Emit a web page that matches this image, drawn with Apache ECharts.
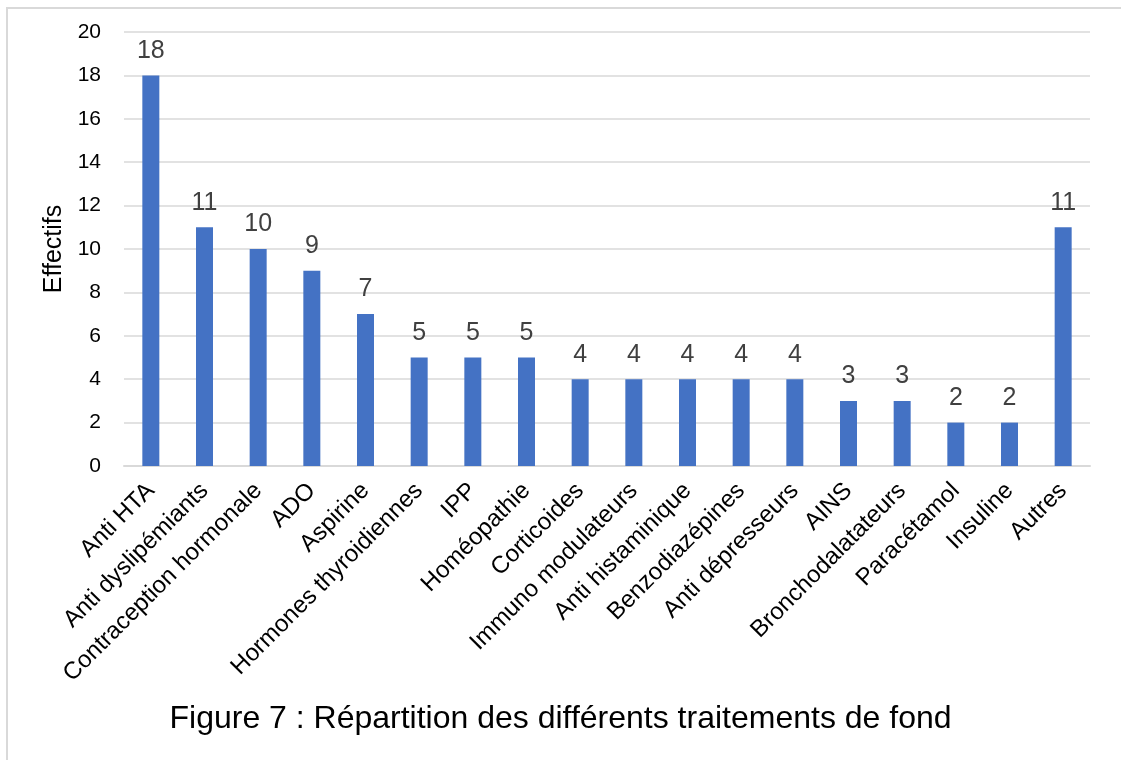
<!DOCTYPE html>
<html>
<head>
<meta charset="utf-8">
<script src="https://cdn.jsdelivr.net/npm/echarts@6/dist/echarts.min.js"></script>
<style>html,body{margin:0;padding:0;background:#fff}#c{width:1121px;height:760px}</style>
</head>
<body>
<div id="c"></div>
<script>
var categories = ["Anti HTA","Anti dyslipémiants","Contraception hormonale","ADO","Aspirine","Hormones thyroidiennes","IPP","Homéopathie","Corticoides","Immuno modulateurs","Anti histaminique","Benzodiazépines","Anti dépresseurs","AINS","Bronchodalatateurs","Paracétamol","Insuline","Autres"];
var values = [18,11,10,9,7,5,5,5,4,4,4,4,4,3,3,2,2,11];
var yTicks = {min:0, max:20, interval:2};
var yName = "Effectifs";
var caption = "Figure 7 : Répartition des différents traitements de fond";

var chart = echarts.init(document.getElementById('c'), null, {renderer:'canvas'});
chart.setOption({
  animation:false,
  backgroundColor:'#fff',
  graphic:[{type:'rect', shape:{x:7,y:8,width:1300,height:900}, style:{fill:'none', stroke:'#d9d9d9', lineWidth:2}}],
  title:{text:caption, left:'center', top:698, textStyle:{fontFamily:'Liberation Sans', fontSize:32, fontWeight:'normal', color:'#000'}},
  grid:{left:124, right:31, top:32, bottom:294},
  xAxis:{type:'category', data:categories,
    axisLine:{lineStyle:{color:'#d9d9d9', width:2}}, axisTick:{show:false},
    axisLabel:{rotate:45, interval:0, margin:21, fontFamily:'Liberation Sans', fontSize:24, color:'#000'}},
  yAxis:{type:'value', min:yTicks.min, max:yTicks.max, interval:yTicks.interval,
    name:yName, nameLocation:'middle', nameGap:57, nameRotate:90,
    nameTextStyle:{fontFamily:'Liberation Sans', fontSize:25, color:'#000'},
    axisLine:{show:false}, axisTick:{show:false},
    axisLabel:{fontFamily:'Liberation Sans', fontSize:21, color:'#000', margin:23},
    splitLine:{lineStyle:{color:'#d9d9d9', width:1.5}}},
  series:[{type:'bar', data:values, barWidth:17, itemStyle:{color:'#4472C4'},
    label:{show:true, position:'top', distance:12, fontFamily:'Liberation Sans', fontSize:25, color:'#404040'}}]
});
</script>
</body>
</html>
